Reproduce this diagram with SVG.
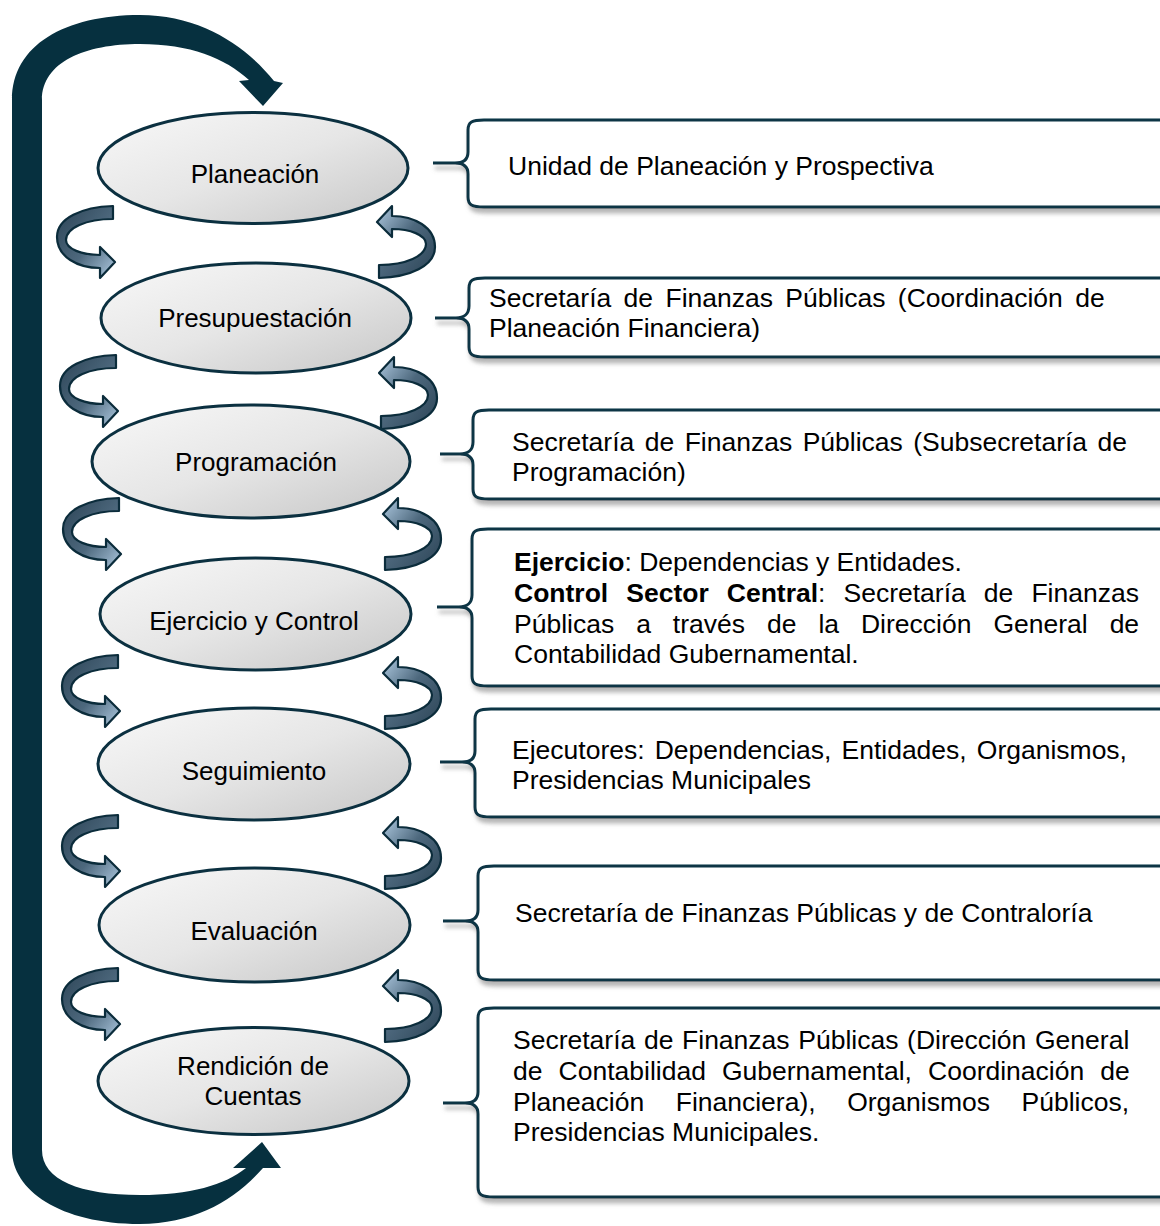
<svg xmlns="http://www.w3.org/2000/svg" width="1160" height="1226" viewBox="0 0 1160 1226">
  <defs>
    <linearGradient id="ellGrad" x1="0" y1="0" x2="1" y2="1">
      <stop offset="0" stop-color="#f8f8f8"/>
      <stop offset="0.5" stop-color="#e6e6e6"/>
      <stop offset="1" stop-color="#c6c6c6"/>
    </linearGradient>
    <linearGradient id="arrGrad" x1="0" y1="0" x2="1" y2="1">
      <stop offset="0" stop-color="#2b4355"/>
      <stop offset="0.55" stop-color="#4d687d"/>
      <stop offset="1" stop-color="#b0cbe2"/>
    </linearGradient>
    <filter id="shadow" x="-5%" y="-20%" width="115%" height="150%">
      <feDropShadow dx="2" dy="5" stdDeviation="2.2" flood-color="#7a7a7a" flood-opacity="0.55"/>
    </filter>
    <path id="curl" d="M56,0 C25,1 0,12 0,31 C0,51 21,62 43,62 L43,72 L58,56 L43,41 L43,49 C25,49 9,43 9,34 C9,22 29,13 56,13 Z"/>
    <style>
      .ell { fill: url(#ellGrad); stroke: #0b3040; stroke-width: 3; }
      .lbl { font-family: "Liberation Sans", Arial, sans-serif; font-size: 26px; fill: #000; text-anchor: middle; }
      .box { fill: #ffffff; stroke: #0c3445; stroke-width: 3; filter: url(#shadow); }
      .bt { font-family: "Liberation Sans", Arial, sans-serif; font-size: 26.5px; fill: #000; }
      .b { font-weight: bold; }
      .curl { fill: url(#arrGrad); stroke: #0b2c3b; stroke-width: 2.2; stroke-linejoin: round; }
      .loop { fill: #06303f; }
    </style>
  </defs>
  <rect width="1160" height="1226" fill="#ffffff"/>

  <!-- connectors -->
  <g id="connectors">
    <path class="loop" d="M12,100 C12,45 65,15 140,15 C200,15 245,45 274,81 L283,83 L263,106 L239,81 L249,80 C225,58 190,44 140,44 C85,44 42,62 42,100 L42,1150 C42,1180 80,1195 140,1195 C190,1195 225,1185 246,1168 L233,1168 L262,1142 L281,1168 L263,1168 C235,1200 195,1224 140,1224 C60,1224 12,1190 12,1150 Z"/>
    <use href="#curl" class="curl" transform="translate(57,206)"/>
    <use href="#curl" class="curl" transform="translate(435,278) rotate(180)"/>
    <use href="#curl" class="curl" transform="translate(60,355)"/>
    <use href="#curl" class="curl" transform="translate(437,429) rotate(180)"/>
    <use href="#curl" class="curl" transform="translate(63,498)"/>
    <use href="#curl" class="curl" transform="translate(441,570) rotate(180)"/>
    <use href="#curl" class="curl" transform="translate(62,655)"/>
    <use href="#curl" class="curl" transform="translate(441,729) rotate(180)"/>
    <use href="#curl" class="curl" transform="translate(62,815)"/>
    <use href="#curl" class="curl" transform="translate(441,889) rotate(180)"/>
    <use href="#curl" class="curl" transform="translate(62,968)"/>
    <use href="#curl" class="curl" transform="translate(441,1042) rotate(180)"/>
  </g>

  <!-- stage nodes -->
  <g id="node-planeacion">
    <ellipse class="ell" cx="253" cy="168" rx="155" ry="55.5"/>
    <text class="lbl" x="255" y="183">Planeación</text>
  </g>
  <g id="node-presupuestacion">
    <ellipse class="ell" cx="256" cy="318" rx="155" ry="55"/>
    <text class="lbl" x="255" y="327">Presupuestación</text>
  </g>
  <g id="node-programacion">
    <ellipse class="ell" cx="251" cy="461.5" rx="159" ry="56.5"/>
    <text class="lbl" x="256" y="471">Programación</text>
  </g>
  <g id="node-ejercicio">
    <ellipse class="ell" cx="255.5" cy="614" rx="155.5" ry="56"/>
    <text class="lbl" x="254" y="630">Ejercicio y Control</text>
  </g>
  <g id="node-seguimiento">
    <ellipse class="ell" cx="254" cy="764" rx="156" ry="56"/>
    <text class="lbl" x="254" y="780">Seguimiento</text>
  </g>
  <g id="node-evaluacion">
    <ellipse class="ell" cx="254.5" cy="925" rx="155.5" ry="57"/>
    <text class="lbl" x="254" y="940">Evaluación</text>
  </g>
  <g id="node-rendicion">
    <ellipse class="ell" cx="253.5" cy="1081" rx="155.5" ry="53.5"/>
    <text class="lbl" x="253" y="1075">Rendición de</text>
    <text class="lbl" x="253" y="1105">Cuentas</text>
  </g>

  <!-- responsible boxes -->
  <g id="box-planeacion">
    <path class="box" d="M1165,120 L484,120 C472,120 468,122 468,130 L468,152 C468,160 463,163 455,163 L433,163 L455,163 C463,163 468,166 468,174 L468,197 C468,205 472,207 484,207 L1165,207"/>
    <text class="bt" x="508" y="175">Unidad de Planeación y Prospectiva</text>
  </g>
  <g id="box-presupuestacion">
    <path class="box" d="M1165,278 L485,278 C473,278 469,280 469,288 L469,306 C469,314 464,318 456,318 L435,318 L456,318 C464,318 469,321 469,329 L469,347 C469,355 473,357 485,357 L1165,357"/>
    <text class="bt" x="489" y="307" style="word-spacing:5px">Secretaría de Finanzas Públicas (Coordinación de</text>
    <text class="bt" x="489" y="337">Planeación Financiera)</text>
  </g>
  <g id="box-programacion">
    <path class="box" d="M1165,410 L489,410 C477,410 473,412 473,420 L473,442 C473,450 468,454 460,454 L440,454 L460,454 C468,454 473,457 473,465 L473,489 C473,497 477,499 489,499 L1165,499"/>
    <text class="bt" x="512" y="451" style="word-spacing:3.1px">Secretaría de Finanzas Públicas (Subsecretaría de</text>
    <text class="bt" x="512" y="481">Programación)</text>
  </g>
  <g id="box-ejercicio">
    <path class="box" d="M1165,529 L488,529 C476,529 472,531 472,539 L472,595 C472,603 467,607 459,607 L437,607 L459,607 C467,607 472,610 472,618 L472,676 C472,684 476,686 488,686 L1165,686"/>
    <text class="bt" x="514" y="571"><tspan class="b">Ejercicio</tspan>: Dependencias y Entidades.</text>
    <text class="bt" x="514" y="602" style="word-spacing:10.7px"><tspan class="b">Control Sector Central</tspan>: Secretaría de Finanzas</text>
    <text class="bt" x="514" y="633" style="word-spacing:14.6px">Públicas a través de la Dirección General de</text>
    <text class="bt" x="514" y="663">Contabilidad Gubernamental.</text>
  </g>
  <g id="box-seguimiento">
    <path class="box" d="M1165,709 L491,709 C479,709 475,711 475,719 L475,751 C475,759 470,762 462,762 L440,762 L462,762 C470,762 475,765 475,773 L475,807 C475,815 479,817 491,817 L1165,817"/>
    <text class="bt" x="512" y="759" style="word-spacing:2.7px">Ejecutores: Dependencias, Entidades, Organismos,</text>
    <text class="bt" x="512" y="789">Presidencias Municipales</text>
  </g>
  <g id="box-evaluacion">
    <path class="box" d="M1165,866 L494,866 C482,866 478,868 478,876 L478,910 C478,918 473,921 465,921 L443,921 L465,921 C473,921 478,924 478,932 L478,970 C478,978 482,980 494,980 L1165,980"/>
    <text class="bt" x="515" y="922">Secretaría de Finanzas Públicas y de Contraloría</text>
  </g>
  <g id="box-rendicion">
    <path class="box" d="M1165,1008 L494,1008 C482,1008 478,1010 478,1018 L478,1092 C478,1100 473,1103 465,1103 L443,1103 L465,1103 C473,1103 478,1106 478,1114 L478,1187 C478,1195 482,1197 494,1197 L1165,1197"/>
    <text class="bt" x="513" y="1049" style="word-spacing:1.3px">Secretaría de Finanzas Públicas (Dirección General</text>
    <text class="bt" x="513" y="1080" style="word-spacing:8.7px">de Contabilidad Gubernamental, Coordinación de</text>
    <text class="bt" x="513" y="1111" style="word-spacing:24.2px">Planeación Financiera), Organismos Públicos,</text>
    <text class="bt" x="513" y="1141">Presidencias Municipales.</text>
  </g>
</svg>
